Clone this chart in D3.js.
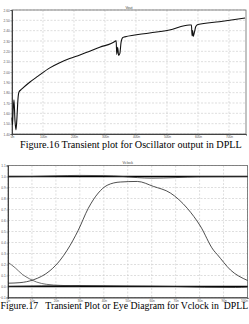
<!DOCTYPE html>
<html><head><meta charset="utf-8">
<script src="https://cdn.jsdelivr.net/npm/d3@7"></script>
<style>html,body{margin:0;padding:0;background:#fff;overflow:hidden}</style>
</head><body>
<svg id="c" width="249" height="324"></svg>
<script>
// ---------- Figure 16 data ----------
const oscTime = [0,1.5,3,6.4,9.6,12.9,16,19.3,22.5,32,58,84,122,154,186,219,283,334,336,338,341,344,348,352,358,364,444,508,572,579,581,583,585,589,593,600,669,752];
const oscVout = [1.6,0.9,1.9,3.3,1.3,0.4,1.6,3.4,4.07,4.36,5.03,5.6,6.4,6.9,7.3,7.65,8.4,9.0,9.05,7.7,8.4,7.6,7.8,8.9,9.35,9.4,9.78,10.07,10.55,10.55,9.5,10.0,9.45,9.9,10.4,10.6,10.87,11.23];
const oscXTicks = [0,100,200,300,400,500,600,700];
const oscXTickLabels = ["0n","100n","200n","300n","400n","500n","600n","700n"];
const oscYTicks = [0,1,2,3,4,5,6,7,8,9,10,11,12];
const oscYTickLabels = ["1.40","1.50","1.60","1.70","1.80","1.90","2.00","2.10","2.20","2.30","2.40","2.50","2.60"];

// ---------- Figure 17 data ----------
const eyeXTicks = [0,1,2,3,4,5,6,7,8,9,10];
const eyeXTickLabels = ["0n","10n","20n","30n","40n","50n","60n","70n","80n","90n","100n"];
const eyeYTicks = [-0.1,0,0.1,0.2,0.3,0.4,0.5,0.6,0.7,0.8,0.9,1.0,1.1];
const bellT = [0,0.5,1.05,1.76,2.18,2.47,2.93,3.35,3.77,4.14,4.69,5.4,6.07,6.78,7.49,8.03,8.58,8.74,9.29,10];
const bellV = [0.03,0.035,0.06,0.145,0.24,0.33,0.51,0.71,0.85,0.92,0.95,0.955,0.91,0.85,0.71,0.55,0.33,0.29,0.15,0.055];
const highT = [0,10];
const highV = [1.0,1.0];
const high2T = [0,1,2,3,4,4.8,5.4,6,7,8,10];
const high2V = [0.998,1.0,1.006,1.01,1.008,1.0,0.99,0.985,0.99,0.998,1.0];
const lowT = [0,10];
const lowV = [0.0,0.0];
const low2T = [0,1.4,3,5,7,8.2,9.5,10];
const low2V = [0.0,0.005,0.008,0.004,0.0,-0.006,-0.008,-0.004];
const decayT = [0,0.3,0.6,0.9,1.2,1.6,2.2,3];
const decayV = [0.22,0.17,0.11,0.07,0.04,0.02,0.01,0.005];

const svg = d3.select("#c");

function panel(o){
  const g = svg.append("g");
  const x = d3.scaleLinear().domain(o.xDomain).range([o.left,o.right]);
  const y = d3.scaleLinear().domain(o.yDomain).range([o.bottom,o.top]);
  g.append("g").selectAll("line").data(o.yTicks).join("line")
    .attr("x1",o.left).attr("x2",o.right).attr("y1",d=>y(d)).attr("y2",d=>y(d))
    .attr("stroke","#c8c8c8").attr("stroke-width",0.6).attr("stroke-dasharray","2,1.5");
  g.append("g").selectAll("line").data(o.xTicks).join("line")
    .attr("y1",o.top).attr("y2",o.bottom).attr("x1",d=>x(d)).attr("x2",d=>x(d))
    .attr("stroke","#c8c8c8").attr("stroke-width",0.6).attr("stroke-dasharray","2,1.5");
  g.append("rect").attr("x",o.left).attr("y",o.top).attr("width",o.right-o.left).attr("height",o.bottom-o.top)
    .attr("fill","none").attr("stroke","#666").attr("stroke-width",0.8);
  const ax = g.append("g").attr("transform",`translate(0,${o.bottom})`)
    .call(d3.axisBottom(x).tickValues(o.xTicks).tickFormat((d,i)=>o.xLabels[i]).tickSize(1.5).tickPadding(0.5));
  const ay = g.append("g").attr("transform",`translate(${o.left},0)`)
    .call(d3.axisLeft(y).tickValues(o.yTicks).tickFormat((d,i)=>o.yLabels[i]).tickSize(1.5).tickPadding(0.8));
  [ax,ay].forEach(a=>{
    a.selectAll("text").attr("font-size",3.2).attr("font-family","Liberation Sans, Arial").attr("fill","#555");
    a.selectAll(".domain").attr("stroke","#333").attr("stroke-width",0.9);
    a.selectAll(".tick line").attr("stroke","#666").attr("stroke-width",0.5);
  });
  ax.selectAll(".tick text").filter((d,i,n)=>i===n.length-1 && x(d)>245).attr("text-anchor","end");
  g.append("text").attr("x",(o.left+o.right)/2).attr("y",o.top-1.5).attr("text-anchor","middle")
    .attr("font-size",3.6).attr("font-family","Liberation Sans, Arial").attr("fill","#444").text(o.title);
  return {g,x,y};
}

// Figure 16
const p1 = panel({left:12,right:246,top:10,bottom:134,xDomain:[0,755],yDomain:[0,12],
  xTicks:oscXTicks,xLabels:oscXTickLabels,yTicks:oscYTicks,yLabels:oscYTickLabels,title:"Vout"});
p1.g.append("path").datum(oscTime.map((t,i)=>[t,oscVout[i]]))
  .attr("d",d3.line().x(d=>p1.x(d[0])).y(d=>p1.y(d[1])).curve(d3.curveMonotoneX))
  .attr("fill","none").attr("stroke","#111").attr("stroke-width",1.1);

// Figure 17
const p2 = panel({left:8,right:247.5,top:165.5,bottom:297.5,xDomain:[0,10],yDomain:[-0.1,1.1],
  xTicks:eyeXTicks,xLabels:eyeXTickLabels,yTicks:eyeYTicks,yLabels:eyeYTicks.map(d=>d3.format(".1f")(d)),title:"Vclock"});
const series2 = [
  {t:highT,v:highV,w:1.4,c:"#000"},
  {t:high2T,v:high2V,w:0.8,c:"#333"},
  {t:lowT,v:lowV,w:1.4,c:"#000"},
  {t:low2T,v:low2V,w:0.9,c:"#222"},
  {t:decayT,v:decayV,w:0.7,c:"#333"},
  {t:bellT,v:bellV,w:0.8,c:"#222"}
];
series2.forEach(s=>{
  p2.g.append("path").datum(s.t.map((t,i)=>[t,s.v[i]]))
    .attr("d",d3.line().x(d=>p2.x(d[0])).y(d=>p2.y(d[1])).curve(d3.curveMonotoneX))
    .attr("fill","none").attr("stroke",s.c).attr("stroke-width",s.w);
});

function caption(txt,x0,x1,base){
  const t = svg.append("text").attr("x",x0).attr("y",base).attr("font-family","Liberation Serif, Times New Roman, serif")
    .attr("font-size",12).attr("fill","#000").style("white-space","pre").text(txt);
  const w = t.node().getComputedTextLength();
  t.attr("font-size",12*(x1-x0)/w);
}
caption("Figure.16 Transient plot for Oscillator output in DPLL",20,242,147.5);
caption("Figure.17   Transient Plot or Eye Diagram for Vclock in  DPLL",0.5,248.5,309);
</script>
</body></html>
